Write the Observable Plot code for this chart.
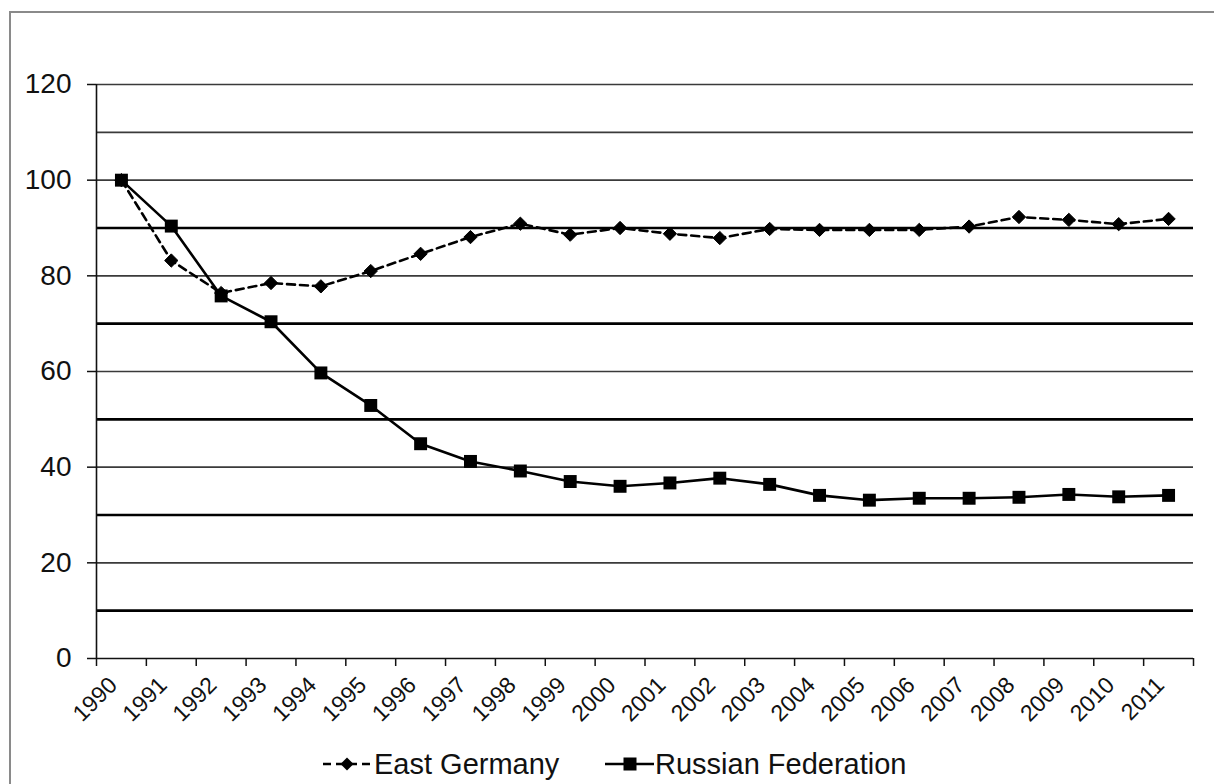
<!DOCTYPE html>
<html><head><meta charset="utf-8">
<script src="https://cdn.jsdelivr.net/npm/d3@7"></script>
<script src="https://cdn.jsdelivr.net/npm/@observablehq/plot@0.6"></script>
<style>
html,body{margin:0;padding:0;background:#fff;overflow:hidden;width:1214px;height:784px;}
#frame{position:absolute;left:9px;top:11px;width:1300px;height:900px;border:2px solid #8a8a8a;}
#chart{position:absolute;left:0;top:0;}
#legend{position:absolute;left:0;top:742px;width:1214px;height:44px;font-family:"Liberation Sans",Arial,sans-serif;font-size:29px;color:#111;}
.item{position:absolute;top:0;height:44px;display:flex;align-items:center;}
.item svg{display:block;}
</style>
</head><body>
<div id="frame"></div>
<div id="chart"></div>
<div id="legend">
  <div class="item" style="left:322px"><svg width="52" height="20"><line x1="1" y1="10" x2="50" y2="10" stroke="#000" stroke-width="2.5" stroke-dasharray="8,5"/><path d="M25,3.5L31.5,10L25,16.5L18.5,10Z" fill="#000"/></svg><span>East Germany</span></div>
  <div class="item" style="left:604px"><svg width="51" height="20"><line x1="1" y1="10" x2="50" y2="10" stroke="#000" stroke-width="2.5"/><rect x="19.5" y="3.5" width="13" height="13" fill="#000"/></svg><span>Russian Federation</span></div>
</div>
<script>
const years = ["1990","1991","1992","1993","1994","1995","1996","1997","1998","1999","2000","2001","2002","2003","2004","2005","2006","2007","2008","2009","2010","2011"];
const eastGermany = [100, 83.2, 76.4, 78.5, 77.8, 81.0, 84.6, 88.1, 90.9, 88.6, 90.0, 88.8, 87.9, 89.8, 89.6, 89.6, 89.6, 90.3, 92.3, 91.7, 90.8, 91.9];
const russia = [100, 90.4, 75.8, 70.4, 59.7, 52.9, 44.9, 41.2, 39.2, 37.0, 36.0, 36.7, 37.7, 36.4, 34.1, 33.1, 33.5, 33.5, 33.7, 34.3, 33.8, 34.1];
const yTicks = [0, 20, 40, 60, 80, 100, 120];
const thinGrid = [20, 40, 60, 80, 100, 110, 120];
const thickGrid = [10, 30, 50, 70, 90];

const n = years.length;
const xMin = -0.5, xMax = n - 0.5;
const boundaries = d3.range(n + 1).map(i => i - 0.5);
const font = '"Liberation Sans", Arial, sans-serif';

const chart = Plot.plot({
  width: 1214,
  height: 742,
  marginLeft: 96,
  marginRight: 21,
  marginTop: 84,
  marginBottom: 84,
  style: {fontFamily: font, color: "#111", background: "transparent"},
  x: {type: "linear", domain: [xMin, xMax], axis: null},
  y: {domain: [0, 120], axis: null},
  marks: [
    Plot.ruleY(thinGrid, {x1: xMin, x2: xMax, stroke: "#3a3a3a", strokeWidth: 1.6}),
    Plot.ruleY(thickGrid, {x1: xMin, x2: xMax, stroke: "#000", strokeWidth: 2.6}),
    Plot.axisY({ticks: yTicks, tickSize: 9, tickPadding: 16, fontSize: 28, stroke: "#111", strokeWidth: 1.5, tickFormat: d => String(d)}),
    Plot.ruleX([xMin], {y1: 0, y2: 120, stroke: "#111", strokeWidth: 1.6}),
    Plot.ruleY([0], {x1: xMin, x2: xMax, stroke: "#111", strokeWidth: 1.6}),
    Plot.axisX({ticks: boundaries, tickSize: 8, tickFormat: () => "", stroke: "#111", strokeWidth: 1.5}),
    Plot.text(years, {x: (d, i) => i, text: d => d, frameAnchor: "bottom", rotate: -45, textAnchor: "end", dx: -3, dy: 28, fontSize: 23, fill: "#111"}),
    Plot.line(eastGermany, {x: (d, i) => i, y: d => d, stroke: "#000", strokeWidth: 2.6, strokeDasharray: "8,5"}),
    Plot.dot(eastGermany, {x: (d, i) => i, y: d => d, symbol: "diamond2", r: 6, fill: "#000", stroke: "#000", strokeWidth: 1}),
    Plot.line(russia, {x: (d, i) => i, y: d => d, stroke: "#000", strokeWidth: 2.6}),
    Plot.dot(russia, {x: (d, i) => i, y: d => d, symbol: "square", r: 7.3, fill: "#000", stroke: "none"})
  ]
});
document.getElementById("chart").appendChild(chart);
</script>
</body></html>
